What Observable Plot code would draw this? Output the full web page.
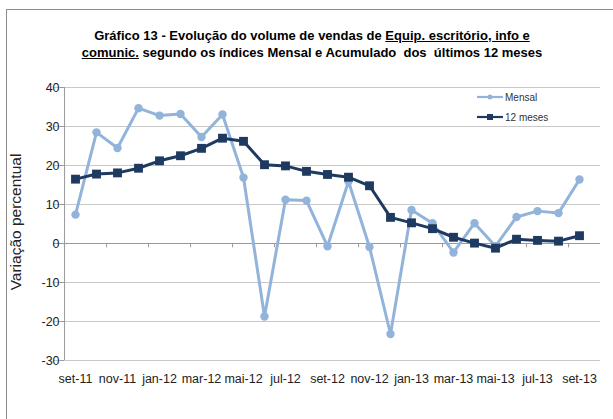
<!DOCTYPE html>
<html><head><meta charset="utf-8">
<script src="https://cdn.jsdelivr.net/npm/d3@7"></script>
<script src="https://cdn.jsdelivr.net/npm/@observablehq/plot@0.6"></script>
<style>
body{margin:0;background:#fff;font-family:"Liberation Sans",Arial,sans-serif;}
#wrap{position:relative;width:613px;height:419px;overflow:hidden;}
#frame{position:absolute;left:6px;top:9px;width:620px;height:420px;border-left:1px solid #8c8c8c;border-top:1px solid #8c8c8c;}
#title{position:absolute;left:0;top:27px;width:624px;text-align:center;font-weight:bold;font-size:13px;line-height:17px;color:#000;font-family:"Liberation Sans Narrow","Arial Narrow","Liberation Sans",sans-serif;}
#title u{text-decoration:underline;}
#chart{position:absolute;left:0;top:70px;}
#ylab{position:absolute;left:16px;top:222px;transform:translate(-50%,-50%) rotate(-90deg);font-size:15.5px;white-space:nowrap;color:#222;}
</style></head>
<body>
<div id="wrap">
<div id="frame"></div>
<div id="title">Gráfico 13 - Evolução do volume de vendas de <u>Equip. escritório, info e</u><br><u>comunic.</u> segundo os índices Mensal e Acumulado&nbsp; dos&nbsp; últimos 12 meses</div>
<div id="chart"></div>
<div id="ylab">Variação percentual</div>
</div>
<script>
const months = ["set-11","out-11","nov-11","dez-11","jan-12","fev-12","mar-12","abr-12","mai-12","jun-12","jul-12","ago-12","set-12","out-12","nov-12","dez-12","jan-13","fev-13","mar-13","abr-13","mai-13","jun-13","jul-13","ago-13","set-13"];
const mensal = [7.4,28.5,24.5,34.7,32.8,33.2,27.3,33.1,16.9,-18.7,11.2,11.0,-0.7,15.9,-0.9,-23.2,8.6,5.2,-2.3,5.2,-0.7,6.8,8.3,7.8,16.4];
const doze = [16.5,17.8,18.1,19.3,21.2,22.5,24.4,27.0,26.2,20.2,19.9,18.5,17.7,17.0,14.8,6.7,5.3,3.8,1.6,0.1,-1.2,1.1,0.8,0.6,2.0];
const yTicks = [-30,-20,-10,0,10,20,30,40];
const xLabels = months.filter((d,i)=>i%2===0);
const seriesNames = ["Mensal","12 meses"];

const light = "#92B3DA", dark = "#1F3A60";
const dM = months.map((m,i)=>({m, v: mensal[i]}));
const dD = months.map((m,i)=>({m, v: doze[i]}));

const W = 613, H = 349, mL = 53, mR = 13, mT = 17, mB = 59;
const step = (W - mL - mR) / months.length;
const bounds = d3.range(2, months.length, 2).map(i => months[i]);

const plot = Plot.plot({
  width: W, height: H,
  marginLeft: mL, marginRight: mR, marginTop: mT, marginBottom: mB,
  style: {fontFamily: "'Liberation Sans', Arial, sans-serif", fontSize: "12px", color: "#222", background: "transparent"},
  x: {type: "point", domain: months, padding: 0.5, axis: null},
  y: {domain: [-30, 40], axis: null},
  marks: [
    Plot.ruleY(yTicks.filter(d=>d!==0), {stroke: "#c8c8c8", strokeWidth: 1}),
    Plot.ruleY([0], {stroke: "#9a9a9a", strokeWidth: 1}),
    Plot.ruleX([months[0]], {dx: -step/2, y1: -30, y2: 40, stroke: "#9a9a9a"}),
    Plot.ruleY(yTicks, {y: d=>d, x1: () => months[0], x2: () => months[0], dx: -step/2, insetLeft: -4, stroke: "#9a9a9a"}),
    Plot.text(yTicks, {y: d=>d, x: () => months[0], dx: -step/2 - 5, textAnchor: "end", text: d=>String(d), fontSize: 12.5, fill: "#222"}),
    Plot.ruleX(bounds, {x: d=>d, dx: -step/2, y1: () => 0, y2: () => -1.1, stroke: "#9a9a9a"}),
    Plot.text(xLabels, {x: d=>d, y: () => -30, dy: 18, text: d=>d, fontSize: 12.5, fill: "#222"}),
    Plot.line(dM, {x: "m", y: "v", stroke: light, strokeWidth: 3}),
    Plot.dot(dM, {x: "m", y: "v", r: 4.2, fill: light, stroke: "none"}),
    Plot.line(dD, {x: "m", y: "v", stroke: dark, strokeWidth: 3}),
    Plot.dot(dD, {x: "m", y: "v", symbol: "square", r: 5, fill: dark, stroke: "none"})
  ]
});
document.getElementById("chart").appendChild(plot);

const lsvg = d3.select("#wrap").append("svg").attr("width", 120).attr("height", 40)
  .style("position","absolute").style("left","474px").style("top","87px");
const items = [{name: seriesNames[0], c: light, sym: "circle", y: 10},{name: seriesNames[1], c: dark, sym: "square", y: 30}];
items.forEach(it => {
  lsvg.append("line").attr("x1",3).attr("x2",29).attr("y1",it.y).attr("y2",it.y).attr("stroke",it.c).attr("stroke-width",2.2);
  if (it.sym==="circle") lsvg.append("circle").attr("cx",16).attr("cy",it.y).attr("r",2.5).attr("fill",it.c);
  else lsvg.append("rect").attr("x",13).attr("y",it.y-3).attr("width",6).attr("height",6).attr("fill",it.c);
  lsvg.append("text").attr("x",31).attr("y",it.y+3.5).attr("font-size",10).attr("fill","#333")
    .attr("font-family","'Liberation Sans Narrow','Liberation Sans',Arial,sans-serif").text(it.name);
});
</script>
</body></html>
